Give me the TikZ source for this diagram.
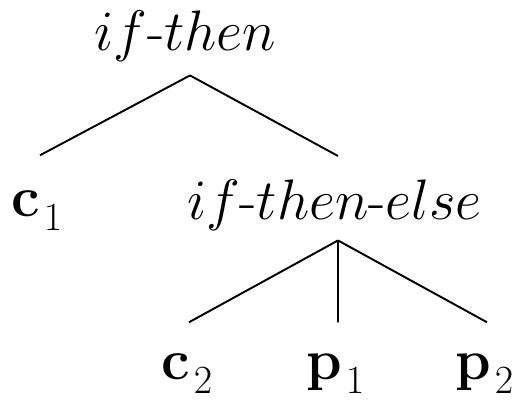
\RequirePackage{fix-cm}
\documentclass[tikz,border=0pt]{standalone}
\usepackage{amsmath}
\usepackage{tikz}
\usetikzlibrary{calc}
\newcommand{\lowsub}[1]{_{\mkern1.5mu\raisebox{-3pt}{$\scriptstyle #1$}}}

\begin{document}
\begin{tikzpicture}[x=0.02cm,y=-0.02cm,every node/.style={font=\fontsize{32.5}{38}\selectfont,inner sep=0pt,anchor=base},branch/.style={line width=1.1pt}]
 \useasboundingbox (0,0) rectangle (514,401);
 % upper level
 \node (it)  at (185.5,51)  {$if$-$then$};
 \node (c1)  at (37.5,217)  {$\mathbf{c}\lowsub{1}$};
 \node (ite) at (334.5,220) {$if$-$then$-$else$};
 % lower level
 \node (c2)  at (187.5,380) {$\mathbf{c}\lowsub{2}$};
 \node (p1)  at (336,380)   {$\mathbf{p}\lowsub{1}$};
 \node (p2)  at (485,380)   {$\mathbf{p}\lowsub{2}$};
 \draw[branch] ($(it.south)+(4.5,13)$)--($(c1.north)+(2.5,-36)$);
 \draw[branch] ($(it.south)+(4.5,13)$)--($(ite.north)+(3.5,-24)$);
 \draw[branch] ($(ite.south)+(3.5,9)$)--($(c2.north)+(1.5,-32)$);
 \draw[branch] ($(ite.south)+(3.5,9)$)--($(p1.north)+(2,-32)$);
 \draw[branch] ($(ite.south)+(3.5,9)$)--($(p2.north)+(2,-32)$);
\end{tikzpicture}
\end{document}
